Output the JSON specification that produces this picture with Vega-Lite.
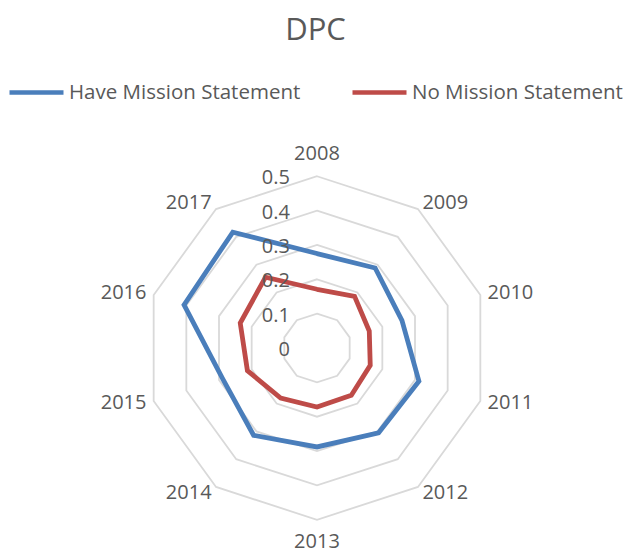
{
  "$schema": "https://vega.github.io/schema/vega-lite/v6.json",
  "width": 625,
  "height": 434,
  "autosize": {"type": "none"},
  "padding": {"left": 0, "right": 0, "top": 120, "bottom": 0},
  "background": "white",
  "config": {"view": {"stroke": null}, "font": "Open Sans"},
  "title": {"text": "DPC", "font": "Open Sans", "fontSize": 31, "fontWeight": "normal", "color": "#595959", "anchor": "middle", "baseline": "alphabetic", "offset": -8, "dx": 3},
  "datasets": {
    "series": [
      {"series": "Have Mission Statement", "year": "2008", "idx": 0, "value": 0.275},
      {"series": "Have Mission Statement", "year": "2009", "idx": 1, "value": 0.288},
      {"series": "Have Mission Statement", "year": "2010", "idx": 2, "value": 0.26},
      {"series": "Have Mission Statement", "year": "2011", "idx": 3, "value": 0.312},
      {"series": "Have Mission Statement", "year": "2012", "idx": 4, "value": 0.305},
      {"series": "Have Mission Statement", "year": "2013", "idx": 5, "value": 0.288},
      {"series": "Have Mission Statement", "year": "2014", "idx": 6, "value": 0.314},
      {"series": "Have Mission Statement", "year": "2015", "idx": 7, "value": 0.289},
      {"series": "Have Mission Statement", "year": "2016", "idx": 8, "value": 0.407},
      {"series": "Have Mission Statement", "year": "2017", "idx": 9, "value": 0.417},
      {"series": "No Mission Statement", "year": "2008", "idx": 0, "value": 0.171},
      {"series": "No Mission Statement", "year": "2009", "idx": 1, "value": 0.186},
      {"series": "No Mission Statement", "year": "2010", "idx": 2, "value": 0.16},
      {"series": "No Mission Statement", "year": "2011", "idx": 3, "value": 0.163},
      {"series": "No Mission Statement", "year": "2012", "idx": 4, "value": 0.17},
      {"series": "No Mission Statement", "year": "2013", "idx": 5, "value": 0.172},
      {"series": "No Mission Statement", "year": "2014", "idx": 6, "value": 0.18},
      {"series": "No Mission Statement", "year": "2015", "idx": 7, "value": 0.213},
      {"series": "No Mission Statement", "year": "2016", "idx": 8, "value": 0.235},
      {"series": "No Mission Statement", "year": "2017", "idx": 9, "value": 0.255}
    ],
    "grid": [
      {"ring": 0.1, "idx": 0}, {"ring": 0.1, "idx": 1}, {"ring": 0.1, "idx": 2}, {"ring": 0.1, "idx": 3}, {"ring": 0.1, "idx": 4},
      {"ring": 0.1, "idx": 5}, {"ring": 0.1, "idx": 6}, {"ring": 0.1, "idx": 7}, {"ring": 0.1, "idx": 8}, {"ring": 0.1, "idx": 9},
      {"ring": 0.2, "idx": 0}, {"ring": 0.2, "idx": 1}, {"ring": 0.2, "idx": 2}, {"ring": 0.2, "idx": 3}, {"ring": 0.2, "idx": 4},
      {"ring": 0.2, "idx": 5}, {"ring": 0.2, "idx": 6}, {"ring": 0.2, "idx": 7}, {"ring": 0.2, "idx": 8}, {"ring": 0.2, "idx": 9},
      {"ring": 0.3, "idx": 0}, {"ring": 0.3, "idx": 1}, {"ring": 0.3, "idx": 2}, {"ring": 0.3, "idx": 3}, {"ring": 0.3, "idx": 4},
      {"ring": 0.3, "idx": 5}, {"ring": 0.3, "idx": 6}, {"ring": 0.3, "idx": 7}, {"ring": 0.3, "idx": 8}, {"ring": 0.3, "idx": 9},
      {"ring": 0.4, "idx": 0}, {"ring": 0.4, "idx": 1}, {"ring": 0.4, "idx": 2}, {"ring": 0.4, "idx": 3}, {"ring": 0.4, "idx": 4},
      {"ring": 0.4, "idx": 5}, {"ring": 0.4, "idx": 6}, {"ring": 0.4, "idx": 7}, {"ring": 0.4, "idx": 8}, {"ring": 0.4, "idx": 9},
      {"ring": 0.5, "idx": 0}, {"ring": 0.5, "idx": 1}, {"ring": 0.5, "idx": 2}, {"ring": 0.5, "idx": 3}, {"ring": 0.5, "idx": 4},
      {"ring": 0.5, "idx": 5}, {"ring": 0.5, "idx": 6}, {"ring": 0.5, "idx": 7}, {"ring": 0.5, "idx": 8}, {"ring": 0.5, "idx": 9}
    ],
    "cats": [
      {"year": "2008", "idx": 0}, {"year": "2009", "idx": 1}, {"year": "2010", "idx": 2}, {"year": "2011", "idx": 3}, {"year": "2012", "idx": 4},
      {"year": "2013", "idx": 5}, {"year": "2014", "idx": 6}, {"year": "2015", "idx": 7}, {"year": "2016", "idx": 8}, {"year": "2017", "idx": 9}
    ],
    "ticks": [
      {"v": 0, "label": "0"}, {"v": 0.1, "label": "0.1"}, {"v": 0.2, "label": "0.2"},
      {"v": 0.3, "label": "0.3"}, {"v": 0.4, "label": "0.4"}, {"v": 0.5, "label": "0.5"}
    ]
  },
  "layer": [
    {
      "data": {"name": "grid"},
      "transform": [
        {"calculate": "datum.ring * sin(datum.idx * PI / 5)", "as": "px"},
        {"calculate": "datum.ring * cos(datum.idx * PI / 5)", "as": "py"}
      ],
      "mark": {"type": "line", "interpolate": "linear-closed", "stroke": "#d9d9d9", "strokeWidth": 1.8},
      "encoding": {
        "x": {"field": "px", "type": "quantitative", "axis": null, "scale": {"domain": [-0.9229, 0.8967], "nice": false, "zero": false}},
        "y": {"field": "py", "type": "quantitative", "axis": null, "scale": {"domain": [-0.5997, 0.6638], "nice": false, "zero": false}},
        "detail": {"field": "ring", "type": "nominal"},
        "order": {"field": "idx", "type": "quantitative"}
      }
    },
    {
      "data": {"name": "series"},
      "transform": [
        {"calculate": "datum.value * sin(datum.idx * PI / 5)", "as": "px"},
        {"calculate": "datum.value * cos(datum.idx * PI / 5)", "as": "py"}
      ],
      "mark": {"type": "line", "interpolate": "linear-closed", "strokeWidth": 4.8, "strokeJoin": "miter"},
      "encoding": {
        "x": {"field": "px", "type": "quantitative", "axis": null, "scale": {"domain": [-0.9229, 0.8967], "nice": false, "zero": false}},
        "y": {"field": "py", "type": "quantitative", "axis": null, "scale": {"domain": [-0.5997, 0.6638], "nice": false, "zero": false}},
        "color": {
          "field": "series", "type": "nominal",
          "scale": {"domain": ["Have Mission Statement", "No Mission Statement"], "range": ["#4A7EBB", "#BE4B48"]},
          "legend": {
            "orient": "none", "legendX": 7, "legendY": -57, "direction": "horizontal", "title": null,
            "symbolType": "stroke", "symbolSize": 2916, "symbolStrokeWidth": 4.5,
            "labelFont": "Open Sans", "labelFontSize": 20.5, "labelColor": "#595959", "labelLimit": 400,
            "labelOffset": 3, "columnPadding": 42, "padding": 0
          }
        },
        "order": {"field": "idx", "type": "quantitative"}
      }
    },
    {
      "data": {"name": "ticks"},
      "mark": {"type": "text", "align": "right", "baseline": "middle", "dx": -27, "dy": 2, "font": "Open Sans", "fontSize": 20, "color": "#595959"},
      "encoding": {
        "x": {"datum": 0, "type": "quantitative", "scale": {"domain": [-0.9229, 0.8967], "nice": false, "zero": false}},
        "y": {"field": "v", "type": "quantitative", "scale": {"domain": [-0.5997, 0.6638], "nice": false, "zero": false}},
        "text": {"field": "label", "type": "nominal"}
      }
    },
    {
      "data": {"name": "cats"},
      "transform": [
        {"filter": "datum.idx >= 1 && datum.idx <= 4"},
        {"calculate": "0.522 * sin(datum.idx * PI / 5)", "as": "px"},
        {"calculate": "0.522 * cos(datum.idx * PI / 5)", "as": "py"}
      ],
      "mark": {"type": "text", "align": "left", "baseline": "middle", "font": "Open Sans", "fontSize": 20, "color": "#595959"},
      "encoding": {
        "x": {"field": "px", "type": "quantitative", "scale": {"domain": [-0.9229, 0.8967], "nice": false, "zero": false}},
        "y": {"field": "py", "type": "quantitative", "scale": {"domain": [-0.5997, 0.6638], "nice": false, "zero": false}},
        "text": {"field": "year", "type": "nominal"}
      }
    },
    {
      "data": {"name": "cats"},
      "transform": [
        {"filter": "datum.idx >= 6"},
        {"calculate": "0.522 * sin(datum.idx * PI / 5)", "as": "px"},
        {"calculate": "0.522 * cos(datum.idx * PI / 5)", "as": "py"}
      ],
      "mark": {"type": "text", "align": "right", "baseline": "middle", "font": "Open Sans", "fontSize": 20, "color": "#595959"},
      "encoding": {
        "x": {"field": "px", "type": "quantitative", "scale": {"domain": [-0.9229, 0.8967], "nice": false, "zero": false}},
        "y": {"field": "py", "type": "quantitative", "scale": {"domain": [-0.5997, 0.6638], "nice": false, "zero": false}},
        "text": {"field": "year", "type": "nominal"}
      }
    },
    {
      "data": {"name": "cats"},
      "transform": [
        {"filter": "datum.idx == 0 || datum.idx == 5"},
        {"calculate": "0.565 * sin(datum.idx * PI / 5)", "as": "px"},
        {"calculate": "0.565 * cos(datum.idx * PI / 5)", "as": "py"}
      ],
      "mark": {"type": "text", "align": "center", "baseline": "middle", "font": "Open Sans", "fontSize": 20, "color": "#595959"},
      "encoding": {
        "x": {"field": "px", "type": "quantitative", "scale": {"domain": [-0.9229, 0.8967], "nice": false, "zero": false}},
        "y": {"field": "py", "type": "quantitative", "scale": {"domain": [-0.5997, 0.6638], "nice": false, "zero": false}},
        "text": {"field": "year", "type": "nominal"}
      }
    }
  ]
}
